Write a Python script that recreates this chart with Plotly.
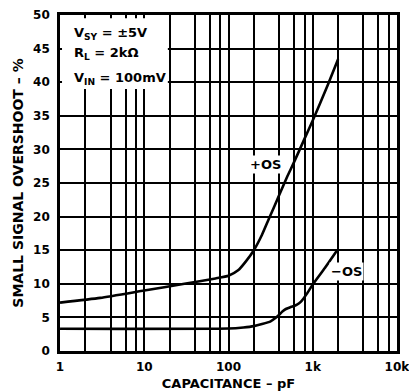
import plotly.graph_objects as go

# Data
cap_pos = [1, 3, 10, 30, 70, 100, 130, 160, 200, 250, 300, 400, 500, 600, 800, 1000, 1500, 2000]
os_pos = [7.2, 7.9, 9.0, 10.0, 10.8, 11.2, 12.0, 13.3, 15.0, 17.3, 19.6, 23.2, 26.0, 28.1, 31.6, 34.3, 39.5, 43.4]

cap_neg = [1, 100, 150, 200, 250, 316, 360, 400, 440, 480, 540, 600, 650, 720, 850, 1000, 1400, 1950]
os_neg = [3.3, 3.35, 3.5, 3.7, 4.0, 4.4, 4.9, 5.4, 5.9, 6.25, 6.5, 6.7, 6.9, 7.3, 8.5, 9.9, 12.4, 15.0]

x_major = [1, 10, 100, 1000, 10000]
x_major_text = ["1", "10", "100", "1k", "10k"]
x_minor = [m * d for d in [1, 10, 100, 1000] for m in (2, 4, 6, 8)]

box_lines = ["V<sub>SY</sub> = ±5V", "R<sub>L</sub> = 2kΩ", "V<sub>IN</sub> = 100mV"]
curve_labels = ["+OS", "−OS"]

FONT = "DejaVu Sans, Verdana, sans-serif"

fig = go.Figure()
for xs, ys in [(cap_pos, os_pos), (cap_neg, os_neg)]:
    fig.add_trace(go.Scatter(x=xs, y=ys, mode="lines",
                             line=dict(color="black", width=2.6, shape="spline", smoothing=0.5),
                             showlegend=False, hoverinfo="skip"))

fig.update_layout(
    width=409, height=391,
    margin=dict(l=60, r=12, t=15, b=40, autoexpand=False),
    paper_bgcolor="white", plot_bgcolor="white",
    font=dict(family=FONT, color="black", size=12, weight="bold"),
    xaxis=dict(type="log", range=[-0.0005, 4.0005], tickvals=x_major, ticktext=x_major_text,
               showgrid=True, gridcolor="black", gridwidth=1.6,
               minor=dict(tickvals=x_minor, showgrid=True, gridcolor="black", gridwidth=1.6, ticks=""),
               showline=True, linecolor="black", linewidth=2.6, mirror=True, ticks="",
               automargin=False, ticklabelstandoff=3, ticklabeloverflow="allow",
               tickfont=dict(family=FONT, size=12, weight="bold"), zeroline=False,
               title=dict(text="CAPACITANCE – pF", font=dict(family=FONT, size=13, weight="bold"), standoff=6)),
    yaxis=dict(range=[0, 50], dtick=5, showgrid=True, gridcolor="black", gridwidth=1.6,
               showline=True, linecolor="black", linewidth=2.6, mirror=True, ticks="",
               automargin=False, ticklabelstandoff=5, ticklabeloverflow="allow",
               tickfont=dict(family=FONT, size=12, weight="bold"), zeroline=False,
               title=dict(text="SMALL SIGNAL OVERSHOOT – %", font=dict(family=FONT, size=14, weight="bold"), standoff=7)),
)

# white condition box (covers the grid, like the reference)
fig.add_shape(type="rect", xref="paper", yref="paper", x0=0.006, x1=0.32, y0=0.78, y1=0.99,
              fillcolor="white", line=dict(width=0), layer="above")

for txt, yy in zip(box_lines, [0.944, 0.884, 0.812]):
    fig.add_annotation(xref="paper", yref="paper", x=0.035, y=yy, xanchor="left", yanchor="middle",
                       showarrow=False, text=txt, font=dict(family=FONT, size=13, weight="bold"))

fig.add_annotation(x=2.44, y=27.7, xref="x", yref="y", text=curve_labels[0], showarrow=False,
                   bgcolor="white", borderpad=1, font=dict(family=FONT, size=13, weight="bold"))
fig.add_annotation(x=3.40, y=11.8, xref="x", yref="y", text=curve_labels[1], showarrow=False,
                   bgcolor="white", borderpad=1, font=dict(family=FONT, size=13, weight="bold"))

fig.write_html("out.html", config={"displayModeBar": False},
               post_script="document.body.style.margin='0';document.body.style.padding='0';")
